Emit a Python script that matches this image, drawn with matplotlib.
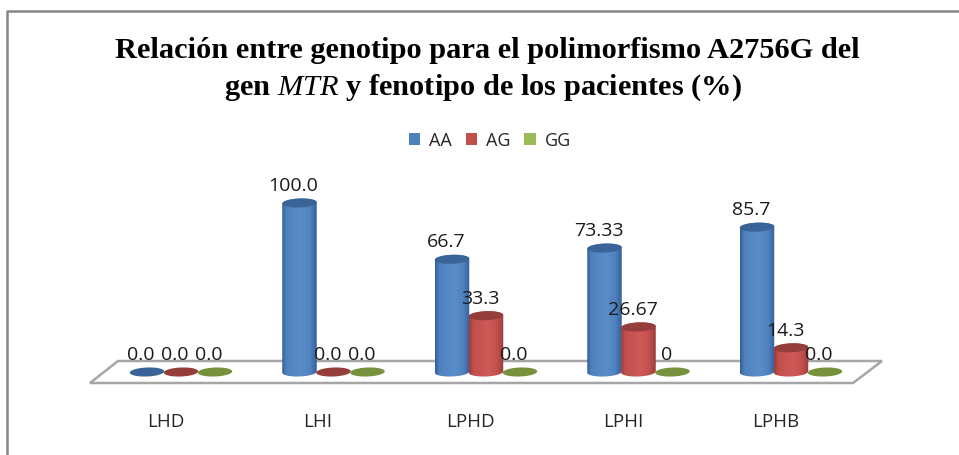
import numpy as np
import matplotlib
matplotlib.use("Agg")
import matplotlib.pyplot as plt
from matplotlib.patches import Polygon, Patch
from matplotlib.colors import LinearSegmentedColormap
from matplotlib.lines import Line2D
from matplotlib.transforms import offset_copy

categories = ["LHD", "LHI", "LPHD", "LPHI", "LPHB"]
series_names = ["AA", "AG", "GG"]
aa = [0.0, 100.0, 66.7, 73.33, 85.7]
ag = [0.0, 0.0, 33.3, 26.67, 14.3]
gg = [0.0, 0.0, 0.0, 0.0, 0.0]
aa_labels = ["0.0", "100.0", "66.7", "73.33", "85.7"]
ag_labels = ["0.0", "0.0", "33.3", "26.67", "14.3"]
gg_labels = ["0.0", "0.0", "0.0", "0", "0.0"]

W, H = 959, 456
DPI = 100
plt.rcParams["mathtext.fontset"] = "custom"
plt.rcParams["mathtext.it"] = "Liberation Serif:italic"
plt.rcParams["mathtext.rm"] = "Liberation Serif:bold"
LABEL_FONT = "Open Sans"

fig = plt.figure(figsize=(W / DPI, H / DPI), dpi=DPI, facecolor="white")
L, R, T, B = 90, 883, 170, 384
ax = fig.add_axes([L / W, 1 - B / H, (R - L) / W, (B - T) / H])
PX_PER_CAT, PX_PER_VAL = 152.5, 1.69
BAR_W = 34.5 / PX_PER_CAT
STEP = 34 / PX_PER_CAT
ELL_H = 9 / PX_PER_VAL
TILT = 1.3 / PX_PER_VAL / BAR_W   # value units of rise per category unit
x0_px, y0_px = 181, 373
xlim = ((L - x0_px) / PX_PER_CAT, (R - x0_px) / PX_PER_CAT)
ylim = ((y0_px - B) / PX_PER_VAL, (y0_px - T) / PX_PER_VAL)

for s in ax.spines.values():
    s.set_visible(False)
ax.patch.set_visible(False)
ax.set_yticks([])

# floor
fx = lambda p: (p - L) / (R - L)
fy = lambda p: (B - p) / (B - T)
floor_pts = [(fx(90), fy(384)), (fx(853), fy(384)), (fx(882), fy(362)), (fx(118), fy(362))]
ax.add_patch(Polygon(floor_pts, closed=True, transform=ax.transAxes, facecolor="white",
                     edgecolor="#a6a6a6", lw=1.8, clip_on=False, zorder=1))

styles = [
    ("#4f81bd", "#34609a", "#5a8ecb", "#3a6497"),
    ("#c0504d", "#9c3c39", "#d05a57", "#943d3a"),
    ("#9bbb59", "#76923c", "#a9c964", "#76923c"),
]
all_vals = [aa, ag, gg]
all_labs = [aa_labels, ag_labels, gg_labels]


def ellipse_pts(cx, cy, t):
    xs = cx + BAR_W / 2 * np.cos(t)
    ys = cy + ELL_H / 2 * np.sin(t) + TILT * (xs - cx)
    return np.column_stack([xs, ys])


z = 3
for i in range(len(categories)):
    for j, (vals, labs, st) in enumerate(zip(all_vals, all_labs, styles)):
        cx = i + (j - 1) * STEP
        v = vals[i]
        base, edge, light, top = st
        if v > 0:
            poly = np.vstack([ellipse_pts(cx, 0, np.linspace(np.pi, 2 * np.pi, 40)),
                              ellipse_pts(cx, v, np.linspace(0, np.pi, 40))])
            clip = Polygon(poly, closed=True, transform=ax.transData, fc="none", ec="none")
            ax.add_patch(clip)
            cmap = LinearSegmentedColormap.from_list(
                "c", [(0, edge), (0.12, base), (0.55, light), (0.82, base), (1, edge)])
            im = ax.imshow(np.linspace(0, 1, 64)[None, :], cmap=cmap, aspect="auto",
                           extent=(cx - BAR_W / 2, cx + BAR_W / 2, -2 * ELL_H, v + 2 * ELL_H),
                           zorder=z, interpolation="bilinear")
            im.set_clip_path(clip)
        ax.add_patch(Polygon(ellipse_pts(cx, v, np.linspace(0, 2 * np.pi, 60)), closed=True,
                             facecolor=top, edgecolor="none", zorder=z + 0.1))
        z += 0.5

for i in range(len(categories)):
    for j, (vals, labs) in enumerate(zip(all_vals, all_labs)):
        cx = i + (j - 1) * STEP
        tr = offset_copy(ax.transData, fig=fig, x=-6, y=18, units="dots")
        ax.text(cx, vals[i], labs[i], transform=tr, ha="center", va="center",
                fontsize=14, family=LABEL_FONT, color="#1a1a1a", zorder=50, clip_on=False)

ax.set_xticks([i - 15.5 / PX_PER_CAT for i in range(len(categories))])
ax.set_xticklabels(categories, family=LABEL_FONT, fontsize=13.5, color="#262626")
ax.tick_params(axis="x", length=0, pad=21)
ax.set_xlim(*xlim)
ax.set_ylim(*ylim)

# chart frame (top and left only)
fig.add_artist(Line2D([7 / W, 7 / W, 1], [0, 1 - 12 / H, 1 - 12 / H], color="#868686", lw=1.8))

# title
fig.text(487 / W, 1 - 51 / H, "Relación entre genotipo para el polimorfismo A2756G del",
         ha="center", va="center", family="Liberation Serif", weight="bold", fontsize=21.9, color="black")
fig.text(483 / W, 1 - 88 / H, r"gen $\mathit{MTR}$ y fenotipo de los pacientes (%)",
         ha="center", va="center", family="Liberation Serif", weight="bold", fontsize=21.9, color="black")

# legend
handles = [Patch(facecolor=s[0], edgecolor="none") for s in styles]
fig.legend(handles, series_names, loc="center", bbox_to_anchor=(490 / W, 1 - 141 / H),
           ncol=3, frameon=False, handlelength=0.65, handleheight=0.65, handletextpad=0.5,
           columnspacing=0.75, prop={"family": LABEL_FONT, "size": 13}, labelcolor="#262626")

fig.savefig("out.png", dpi=DPI, facecolor="white")
